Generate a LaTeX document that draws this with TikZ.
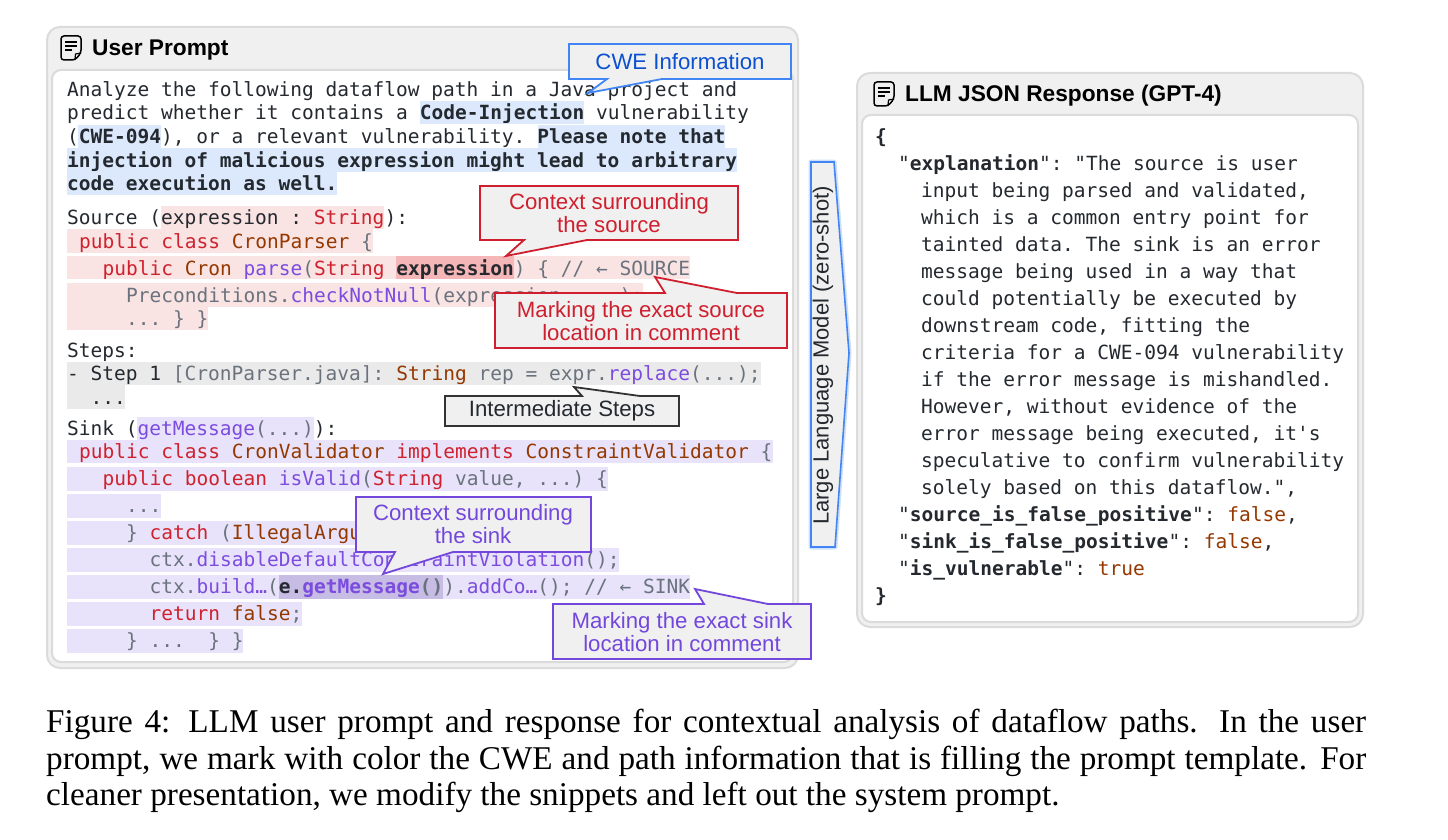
\documentclass[tikz,border=0pt]{standalone}
\usepackage{fontspec}
\setmainfont{Liberation Serif}
\setsansfont{Liberation Sans}
\setmonofont{DejaVu Sans Mono}
\definecolor{cdark}{HTML}{24292F}
\definecolor{ckw}{HTML}{CF222E}
\definecolor{cty}{HTML}{953800}
\definecolor{cfn}{HTML}{7C4CDF}
\definecolor{cgy}{HTML}{6A737D}
\definecolor{hblue}{HTML}{DCE9FD}
\definecolor{hred}{HTML}{F9E3E3}
\definecolor{hreds}{HTML}{F4B6B6}
\definecolor{hgray}{HTML}{EAEAEA}
\definecolor{hpur}{HTML}{E8E3FA}
\definecolor{hpurs}{HTML}{C6BCE4}
\definecolor{panel}{HTML}{F0F0F0}
\definecolor{pline}{HTML}{DBDBDB}
\definecolor{lblue}{HTML}{0B50CF}
\definecolor{sblue}{HTML}{4285F4}
\definecolor{lred}{HTML}{CF1F2E}
\definecolor{lpur}{HTML}{7347DC}
\newcommand{\kw}[1]{\textcolor{ckw}{#1}}
\newcommand{\ty}[1]{\textcolor{cty}{#1}}
\newcommand{\fn}[1]{\textcolor{cfn}{#1}}
\newcommand{\gy}[1]{\textcolor{cgy}{#1}}
\newcommand{\bd}[1]{\textbf{#1}}
\newcommand{\docicon}[2]{%
  \begin{scope}[shift={(#1,#2)}]
    \draw[black,line width=1.5,rounded corners=3,fill=panel] (14,24) -- (0,24) -- (0,0) -- (20,0) -- (20,17) -- cycle;
    \draw[black,line width=1.2,line join=round] (14,24) -- (14.5,18) -- (20,17);
    \draw[black,line width=1.3] (4,6) -- (16,6) (4,10) -- (16,10) (4,14) -- (11,14);
  \end{scope}}
\tikzset{
  code/.style={anchor=base west,inner sep=0pt,yshift=-0.7pt,text=cdark,font=\ttfamily\fontsize{19.52}{24}\selectfont},
  title/.style={anchor=base west,inner sep=0pt,yshift=-0.8pt,text=black,font=\sffamily\bfseries\fontsize{22.7}{26}\selectfont},
  outerbox/.style={fill=panel,draw=pline,line width=2,rounded corners=13},
  innerbox/.style={fill=white,draw=pline,line width=2,rounded corners=9},
  callout/.style={fill=panel,line width=1.8,line join=miter},
  calltext/.style={inner sep=0pt,align=center,font=\sffamily\fontsize{22.2}{23}\selectfont},
  capt/.style={anchor=base west,inner sep=0pt,text=black,font=\rmfamily\fontsize{33.2}{36}\selectfont},
}
\begin{document}
\begin{tikzpicture}[x=1pt,y=-1pt]
\useasboundingbox (0,0) rectangle (1448,840);
% panels
\draw[outerbox] (47,27) rectangle (798,668);
\draw[innerbox] (52,70) rectangle (793,662);
\draw[outerbox] (857,73) rectangle (1363,627);
\draw[innerbox] (862,115) rectangle (1358,622);
\docicon{61}{36}
\docicon{874}{82}
\node[title] (t1) at (92,55) {User Prompt};
\node[title] (t2) at (905,101) {LLM JSON Response (GPT-4)};
% highlights
\fill[hblue] (420,101) rectangle (584,124);
\fill[hblue] (78,125) rectangle (161,148);
\fill[hblue] (538,125) rectangle (725,148);
\fill[hblue] (67,148) rectangle (737,172);
\fill[hblue] (67,172) rectangle (337,195);
\fill[hred] (161,206) rectangle (384,229);
\fill[hred] (67,229) rectangle (373,253);
\fill[hred] (67,256) rectangle (690,279);
\fill[hreds] (396,256) rectangle (514,279);
\fill[hred] (67,283) rectangle (643,307);
\fill[hred] (67,307) rectangle (208,330);
\fill[hgray] (67,362) rectangle (761,385);
\fill[hgray] (67,385) rectangle (125,409);
\fill[hpur] (137,417) rectangle (314,440);
\fill[hpur] (67,440) rectangle (773,463);
\fill[hpur] (67,467) rectangle (608,491);
\fill[hpur] (67,494) rectangle (161,518);
\fill[hpur] (67,521) rectangle (400,545);
\fill[hpur] (67,548) rectangle (619,572);
\fill[hpur] (67,575) rectangle (690,599);
\fill[hpurs] (279,575) rectangle (443,599);
\fill[hpur] (67,602) rectangle (302,626);
\fill[hpur] (67,629) rectangle (243,653);
% prompt text
\node[code] (p1) at (67,95.5) {Analyze the following dataflow path in a Java project and};
\node[code] (p2) at (67,119) {predict whether it contains a \bd{Code-Injection} vulnerability};
\node[code] (p3) at (67,143) {(\bd{CWE-094}), or a relevant vulnerability. \bd{Please note that}};
\node[code] (p4) at (67,166.5) {\bd{injection of malicious expression might lead to arbitrary}};
\node[code] (p5) at (67,190) {\bd{code execution as well.}};
\node[code] (s0) at (67,224) {Source (expression : \kw{String}):};
\node[code] (s1) at (78.8,247.5) {\kw{public} \kw{class} \ty{CronParser} \gy{\{}};
\node[code] (s2) at (102.3,274.5) {\kw{public} \ty{Cron} \fn{parse}\gy{(}\kw{String} \bd{expression}\gy{) \{ // ← SOURCE}};
\node[code] (s3) at (125.8,301.5) {\gy{Preconditions.}\fn{checkNotNull}\gy{(expression, ...);}};
\node[code] (s4) at (125.8,325) {\gy{... \} \}}};
\node[code] (st0) at (67,356.5) {Steps:};
\node[code] (st1) at (67,380) {- Step 1 \gy{[CronParser.java]:} \ty{String} \gy{rep = expr.}\fn{replace}\gy{(...);}};
\node[code] (st2) at (90.5,403.5) {...};
\node[code] (k0) at (67,434.5) {Sink (\fn{getMessage}\gy{(...)}):};
\node[code] (k1) at (78.8,458) {\kw{public} \kw{class} \ty{CronValidator} \kw{implements} \ty{ConstraintValidator} \gy{\{}};
\node[code] (k2) at (102.3,485) {\kw{public} \kw{boolean} \fn{isValid}\gy{(}\kw{String} \gy{value, ...) \{}};
\node[code] (k3) at (125.8,512) {\gy{...}};
\node[code] (k4) at (125.8,539) {\gy{\}} \kw{catch} \gy{(}\ty{IllegalArgu}};
\node[code] (k5) at (149.3,566) {\gy{ctx.}\fn{disableDefaultConstraintViolation}\gy{();}};
\node[code] (k6) at (149.3,593) {\gy{ctx.}\fn{build…}\gy{(}\bd{e.}\bd{\fn{getMessage}}\gy{\bd{()})}\gy{.}\fn{addCo…}\gy{(); // ← SINK}};
\node[code] (k7) at (149.3,620) {\kw{return} \ty{false}\gy{;}};
\node[code] (k8) at (125.8,647) {\gy{\} ...~~\} \}}};
% response text
\node[code] (r0) at (875,143) {\bd{\{}};
\node[code] (r1) at (898,170) {"\bd{explanation}": "The source is user};
\node[code] (r2) at (921,197) {input being parsed and validated,};
\node[code] (r3) at (921,224) {which is a common entry point for};
\node[code] (r4) at (921,251) {tainted data. The sink is an error};
\node[code] (r5) at (921,278) {message being used in a way that};
\node[code] (r6) at (921,305) {could potentially be executed by};
\node[code] (r7) at (921,332) {downstream code, fitting the};
\node[code] (r8) at (921,359) {criteria for a CWE-094 vulnerability};
\node[code] (r9) at (921,386) {if the error message is mishandled.};
\node[code] (r10) at (921,413) {However, without evidence of the};
\node[code] (r11) at (921,440) {error message being executed, it's};
\node[code] (r12) at (921,467) {speculative to confirm vulnerability};
\node[code] (r13) at (921,494) {solely based on this dataflow.",};
\node[code] (r14) at (898,521) {"\bd{source\_is\_false\_positive}": \ty{false},};
\node[code] (r15) at (898,548) {"\bd{sink\_is\_false\_positive}": \ty{false},};
\node[code] (r16) at (898,575) {"\bd{is\_vulnerable}": \ty{true}};
\node[code] (r17) at (875,602) {\bd{\}}};
% callouts
\draw[callout,draw=sblue] (569,44) -- (791,44) -- (791,79) -- (662,79) -- (588,93) -- (607,79) -- (569,79) -- cycle;
\node[calltext,text=lblue] (c1) at (680,62) {CWE Information};
\draw[callout,draw=lred] (480,186) -- (738,186) -- (738,240) -- (587,240) -- (506,256) -- (524,240) -- (480,240) -- cycle;
\node[calltext,text=lred] (c2) at (609,213.5) {Context surrounding\\the source};
\draw[callout,draw=lred] (495,293) -- (665,293) -- (655,277) -- (737,293) -- (787,293) -- (787,348) -- (495,348) -- cycle;
\node[calltext,text=lred] (c3) at (641,321) {Marking the exact source\\location in comment};
\draw[callout,draw=black!80] (445,396) -- (582,396) -- (574,387) -- (640,396) -- (679,396) -- (679,426) -- (445,426) -- cycle;
\node[calltext,text=cdark] (c4) at (562,411) {Intermediate Steps};
\draw[callout,draw=lpur] (356,497) -- (591,497) -- (591,552) -- (453,552) -- (383,574) -- (395,552) -- (356,552) -- cycle;
\node[calltext,text=lpur] (c5) at (473,524.5) {Context surrounding\\the sink};
\draw[callout,draw=lpur] (553,604) -- (704,604) -- (695,589) -- (768,604) -- (811,604) -- (811,659) -- (553,659) -- cycle;
\node[calltext,text=lpur] (c6) at (682,632) {Marking the exact sink\\location in comment};
% arrow
\draw[draw=sblue!25,line width=5,line join=round] (811,162) -- (834,162) -- (849,353) -- (835,547) -- (811,547) -- cycle;
\draw[fill=panel,draw=sblue,line width=1.6] (811,162) -- (834,162) -- (849,353) -- (835,547) -- (811,547) -- cycle;
\node[calltext,text=cdark,rotate=90,font=\sffamily\fontsize{22}{23}\selectfont] (llm) at (823,355.5) {Large Language Model (zero-shot)};
% caption
\node[capt] (f1) at (46,732.5) {\makebox[1320pt][s]{Figure 4: LLM user prompt and response for contextual analysis of dataflow paths. In the user}};
\node[capt] (f2) at (46,769.5) {\makebox[1320pt][s]{prompt, we mark with color the CWE and path information that is filling the prompt template. For}};
\node[capt] (f3) at (46,805.5) {cleaner presentation, we modify the snippets and left out the system prompt.};
\end{tikzpicture}
\end{document}
